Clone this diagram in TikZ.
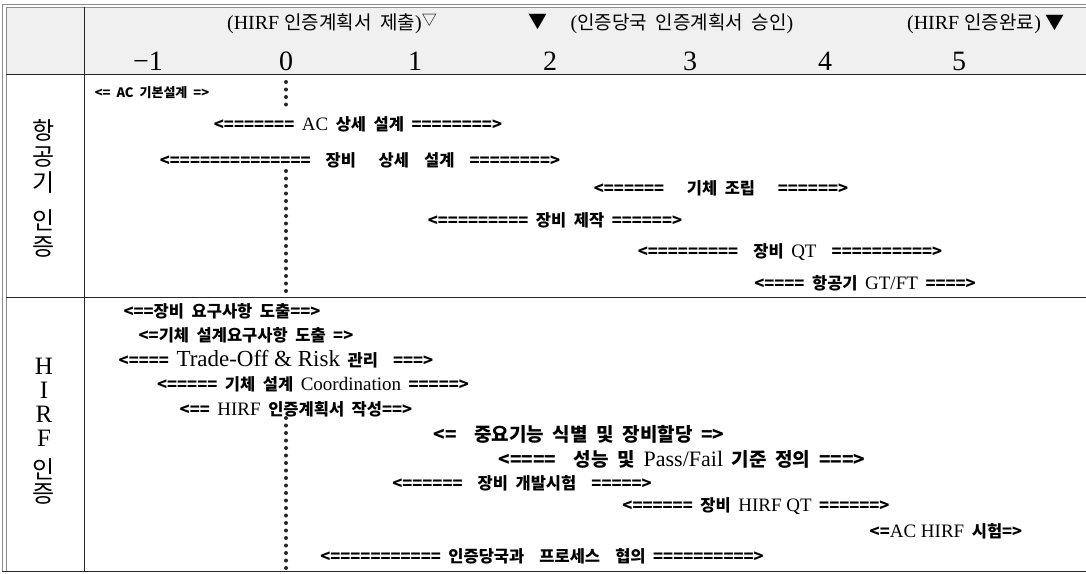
\documentclass[tikz,border=0pt]{standalone}
\usepackage{fontspec}
\setmainfont{Liberation Serif}
\newfontfamily\krfont{Noto Sans CJK KR}[WordSpace=2]
\usetikzlibrary{positioning}
\definecolor{TblLine}{HTML}{262626}
\definecolor{TblFrame}{HTML}{8C8C8C}
\definecolor{TblHead}{HTML}{F0F0F0}
\newcommand{\hg}[1]{{\krfont\fontsize{19}{19}\selectfont #1}}
\newcommand{\hb}[1]{{\krfont\bfseries\fontsize{16.5}{16.5}\selectfont #1}}
\newcommand{\hbig}[1]{{\krfont\bfseries\fontsize{19}{19}\selectfont #1}}
\tikzset{
  tblline/.style={draw=TblLine,line width=1pt},
  tblframe/.style={draw=TblFrame,line width=0.8pt},
  headtext/.style={inner sep=0pt,font=\fontsize{20}{20}\selectfont},
  yearnum/.style={inner sep=0pt,font=\fontsize{28}{28}\selectfont},
  sidelabel/.style={inner sep=0pt,align=center},
  taskbar/.style={inner sep=0pt,font=\fontsize{19}{19}\selectfont},
  markdot/.style={fill=TblLine}
}

\begin{document}
\begin{tikzpicture}[x=1pt,y=-1pt]
  \useasboundingbox (0,0) rectangle (1086,573);
  % table frame
  \fill[TblHead] (6,7) rectangle (1086,74);
  \draw[tblframe] (1086,4) -- (2.5,4) -- (2.5,571);
  \draw[tblframe] (1086,7) -- (6,7) -- (6,571);
  \draw[tblline] (6,74) -- (1086,74);
  \draw[tblline] (6,297) -- (1086,297);
  \draw[tblline] (2,571) -- (1086,571);
  \draw[tblline] (84,7) -- (84,571);

  % header: milestones
  \node[headtext] (submit) at (332,24) {(HIRF \hg{인증계획서 제출})\raisebox{4pt}{\hg{\fontsize{15}{15}\selectfont ▽}}};
  \node[headtext] (approvemark) at (538,22) {\hg{▼}};
  \node[headtext] (approve) at (682,24) {(\hg{인증당국 인증계획서 승인})};
  \node[headtext] (done) at (986,24) {(HIRF \hg{인증완료}) \hg{▼}};

  % header: years
  \node[yearnum] (ym1) at (148,61) {−1};
  \node[yearnum] (y0) at (286,61) {0};
  \node[yearnum] (y1) at (415,61) {1};
  \node[yearnum] (y2) at (550,61) {2};
  \node[yearnum] (y3) at (690,61) {3};
  \node[yearnum] (y4) at (825,61) {4};
  \node[yearnum] (y5) at (959,61) {5};

  % side labels
  \node[sidelabel,font=\krfont\fontsize{24}{26}\selectfont] (aclabel) at (44,188)
    {항\\공\\기\\[12pt]인\\증};
  \node[sidelabel,font=\fontsize{25}{24}\selectfont] (hirflabel) at (44,431)
    {H\\I\\R\\F\\[8pt]{\krfont\fontsize{24}{26}\selectfont 인}\\{\krfont\fontsize{24}{26}\selectfont 증}};

  % time zero
  \foreach \y in {82,89.5,...,106} \fill[markdot] (286,\y) circle[radius=2pt];
  \foreach \y in {171,178.5,...,297} \fill[markdot] (286,\y) circle[radius=2pt];
  \foreach \y in {418,425.5,...,569} \fill[markdot] (286,\y) circle[radius=2pt];

  % aircraft tasks
  \node[taskbar,font=\krfont\bfseries\fontsize{13}{13}\selectfont] (acbasic) at (152,93) {<= AC 기본설계 =>};
  \node[taskbar] (acdetail) at (358,124) {\hb{<======= }AC\hb{ 상세 설계 ========>}};
  \node[taskbar] (eqdetail) at (360,160) {\hb{<==============\ \ 장비\ \ \ 상세\ \ 설계\ \ ========>}};
  \node[taskbar] (airframe) at (721,188) {\hb{<======\ \ \ 기체 조립\ \ \ ======>}};
  \node[taskbar] (eqmake) at (555,220) {\hb{<========= 장비 제작 ======>}};
  \node[taskbar] (eqqt) at (790,252) {\hb{<=========\ \ 장비 }QT\hb{\ \ ==========>}};
  \node[taskbar] (acgtft) at (865,283) {\hb{<==== 항공기 }GT/FT\hb{ ====>}};

  % HIRF tasks
  \node[taskbar] (eqreq) at (222,311) {\hb{<==장비 요구사항 도출==>}};
  \node[taskbar] (afreq) at (246,335) {\hb{<=기체 설계요구사항 도출 =>}};
  \node[taskbar] (tradeoff) at (276,359) {\hb{<==== }{\fontsize{23}{23}\selectfont Trade-Off \& Risk}\hb{ 관리\ \ ===>}};
  \node[taskbar] (afcoord) at (313,384) {\hb{<===== 기체 설계 }Coordination\hb{ =====>}};
  \node[taskbar] (planwrite) at (296,409) {\hb{<== }HIRF\hb{ 인증계획서 작성==>}};
  \node[taskbar] (funcalloc) at (579,434) {\hbig{<=\ \ 중요기능 식별 및 장비할당 =>}};
  \node[taskbar] (passfail) at (682,459) {\hbig{<====\ \ 성능 및 }{\fontsize{22}{22}\selectfont Pass/Fail}\hbig{ 기준 정의 ===>}};
  \node[taskbar] (eqdev) at (522,483) {\hb{<======\ \ 장비 개발시험\ \ =====>}};
  \node[taskbar] (eqhirfqt) at (756,506) {\hb{<====== 장비 }HIRF QT\hb{ ======>}};
  \node[taskbar] (achirf) at (946,531) {\hb{<=}AC HIRF\hb{ 시험=>}};
  \node[taskbar] (authcoord) at (542,556) {\hb{<=========== 인증당국과\ \ 프로세스\ \ 협의 ==========>}};
\end{tikzpicture}
\end{document}
